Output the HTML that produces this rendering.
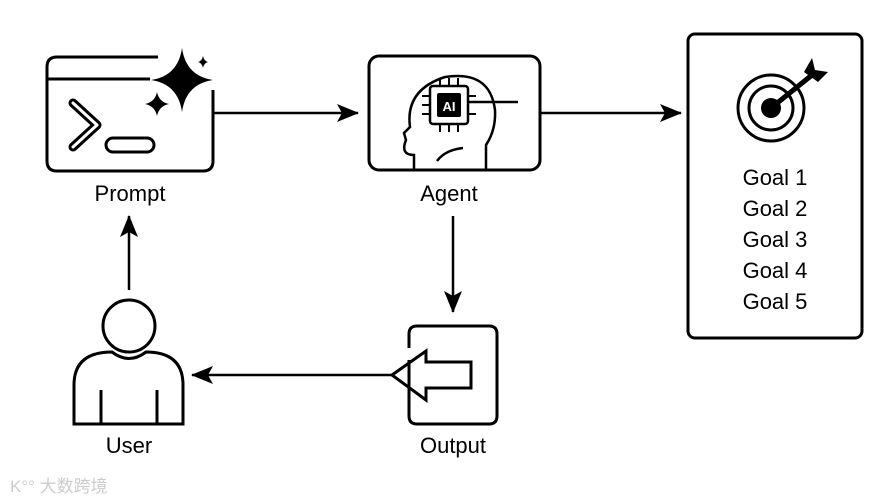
<!DOCTYPE html>
<html><head><style>
body{margin:0;background:#fff;}
svg{display:block;}
text{font-family:"Liberation Sans",Arial,sans-serif;font-size:22px;fill:#000;}
</style></head><body>
<svg width="896" height="500" viewBox="0 0 896 500" xmlns="http://www.w3.org/2000/svg">
<defs><marker id="a" markerWidth="22" markerHeight="18" refX="21" refY="9" orient="auto" markerUnits="userSpaceOnUse" viewBox="0 0 22 18"><path d="M0,0 L22,9 L0,18 L5,9Z" fill="#000"/></marker></defs>
<g fill="none" stroke="#000" stroke-width="3">
<!-- Prompt -->
<path d="M158,57 H57 Q47,57 47,67 V161 Q47,171 57,171 H203 Q213,171 213,161 V90"/>
<line x1="47" y1="79" x2="150" y2="79"/>
<path d="M73,103 L97,125 L73,147" stroke-width="9" stroke-linecap="round" stroke-linejoin="round"/>
<path d="M73,103 L97,125 L73,147" stroke="#fff" stroke-width="3" stroke-linecap="round" stroke-linejoin="round"/>
<rect x="106" y="138" width="48" height="14" rx="7"/>
<!-- Agent -->
<rect x="369" y="56" width="171" height="114" rx="10"/>
<path d="M414,170 V155 Q400,155 406,140 L404,133 L410,127 Q405,90 445,77 Q490,70 495,110 Q496,130 486,145 V170" stroke-width="2.5"/>
<path d="M437,161 Q445,150 463,148" stroke-width="2.5"/>
<rect x="430" y="86" width="38" height="38" rx="3" stroke-width="2.5"/>
<line x1="468" y1="102" x2="518" y2="102" stroke-width="2.5"/>
<g stroke-width="2"><line x1="440" y1="86" x2="440" y2="78"/><line x1="449" y1="86" x2="449" y2="78"/><line x1="458" y1="86" x2="458" y2="78"/><line x1="440" y1="124" x2="440" y2="132"/><line x1="449" y1="124" x2="449" y2="132"/><line x1="458" y1="124" x2="458" y2="132"/><line x1="430" y1="96" x2="422" y2="96"/><line x1="430" y1="105" x2="422" y2="105"/><line x1="430" y1="114" x2="422" y2="114"/><line x1="468" y1="96" x2="476" y2="96"/><line x1="468" y1="114" x2="476" y2="114"/></g>
<!-- Goals -->
<rect x="688" y="34" width="174" height="304" rx="7"/>
<circle cx="771" cy="108" r="33"/>
<circle cx="771" cy="108" r="22"/>
<line x1="771" y1="108" x2="812" y2="75" stroke-width="5"/>
<!-- Output -->
<path d="M409,360 V416 Q409,424 417,424 H489 Q497,424 497,416 V334 Q497,326 489,326 H417 Q409,326 409,334 V348"/>
<path d="M392,375 L426,351 V362 H471 V388 H426 V400 Z"/>
<!-- User -->
<circle cx="129" cy="326" r="26"/>
<path d="M74,424 V385 Q74,352 112,352 Q129,365 146,352 Q183,352 183,385 V424 Z"/>
<line x1="101" y1="390" x2="101" y2="424"/><line x1="157" y1="390" x2="157" y2="424"/>
<!-- arrows -->
<g stroke-width="2.5">
<line x1="213" y1="113" x2="358" y2="113" marker-end="url(#a)"/>
<line x1="540" y1="113" x2="681" y2="113" marker-end="url(#a)"/>
<line x1="453" y1="216" x2="453" y2="312" marker-end="url(#a)"/>
<line x1="392" y1="375" x2="192" y2="375" marker-end="url(#a)"/>
<line x1="129" y1="290" x2="129" y2="216" marker-end="url(#a)"/>
</g>
</g>
<!-- sparkles -->
<path d="M182,48 Q186,76 213,80 Q186,84 182,112 Q178,84 151,80 Q178,76 182,48Z" fill="#000"/>
<path d="M157,92 Q159,102 169,104 Q159,106 157,116 Q155,106 145,104 Q155,102 157,92Z" fill="#000"/>
<path d="M203,56 Q204,61 208,62 Q204,63 203,68 Q202,63 198,62 Q202,61 203,56Z" fill="#000"/>
<rect x="437" y="93" width="24" height="24" rx="2" fill="#000"/>
<text x="449" y="111" text-anchor="middle" style="font-size:13px;font-weight:bold;fill:#fff">AI</text>
<circle cx="771" cy="108" r="10" fill="#000"/>
<path d="M804,72 L812,58 L815,70 L828,72 L818,82 Z" fill="#000"/>
<text x="130" y="201" text-anchor="middle">Prompt</text>
<text x="449" y="201" text-anchor="middle">Agent</text>
<text x="129" y="453" text-anchor="middle">User</text>
<text x="453" y="453" text-anchor="middle">Output</text>
<text x="775" y="185" text-anchor="middle">Goal 1</text>
<text x="775" y="216" text-anchor="middle">Goal 2</text>
<text x="775" y="247" text-anchor="middle">Goal 3</text>
<text x="775" y="278" text-anchor="middle">Goal 4</text>
<text x="775" y="309" text-anchor="middle">Goal 5</text>
<text x="10" y="492" style="font-size:17px;fill:#ccc;font-family:'Liberation Sans','Noto Sans CJK SC',sans-serif">K°° 大数跨境</text>
</svg>
</body></html>
